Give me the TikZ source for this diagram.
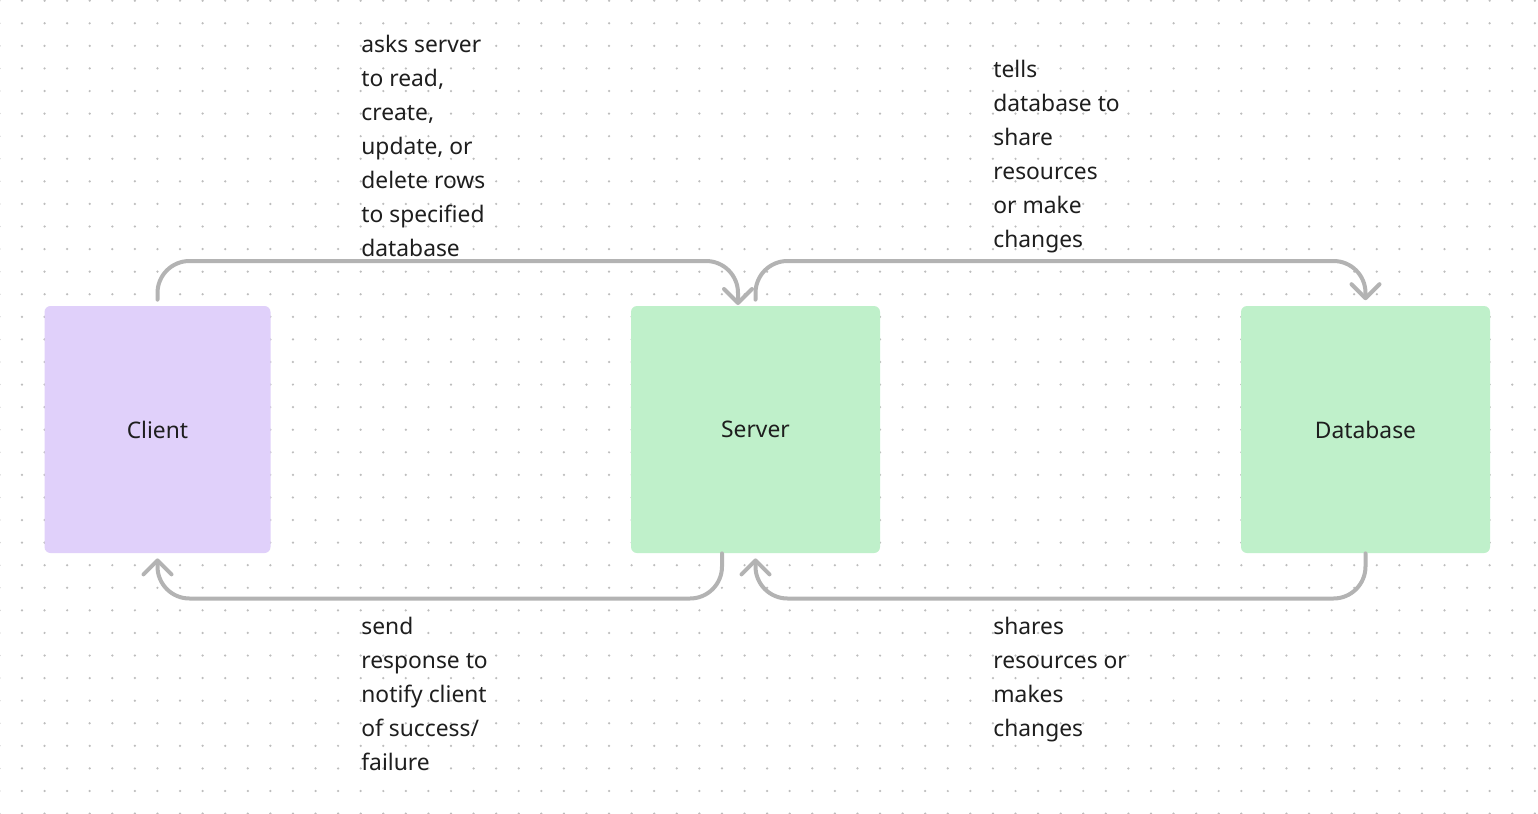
\documentclass[tikz,border=0pt]{standalone}
\usepackage{fontspec}
\setmainfont{Noto Sans}
\usetikzlibrary{arrows.meta}
\definecolor{dotc}{HTML}{BDBDBD}
\definecolor{lav}{HTML}{E0D0FA}
\definecolor{mint}{HTML}{BFF0CA}
\definecolor{conncol}{HTML}{B3B3B3}
\definecolor{ink}{HTML}{1E1E1E}
\begin{document}
\begin{tikzpicture}[x=0.5pt,y=-0.5pt,
  box/.style={draw=none,rounded corners=3pt,minimum width=#1,minimum height=123.5pt,inner sep=0pt,font=\fontsize{11.4pt}{13pt}\selectfont,text=ink},
  conn/.style={draw=conncol,line width=2pt,rounded corners=16pt,line cap=round,-{Straight Barb[length=7pt,width=14pt,line cap=round,round]}},
  lbl/.style={anchor=base west,inner sep=0pt,font=\fontsize{11.4pt}{13pt}\selectfont,text=ink}]
\useasboundingbox[fill=white] (0,0) rectangle (1538,814);
\foreach \i in {0,...,68}{\foreach \j in {0,...,36}{\fill[dotc] (-0.6+\i*22.58,0.7+\j*22.58) circle[radius=0.62pt];}}
\node[box=113pt,fill=lav] (client) at (157.5,429.5) {Client};
\node[box=124.5pt,fill=mint] (server) at (755.5,429.5) {Server};
\node[box=124.5pt,fill=mint] (database) at (1365.5,429.5) {Database};
\coordinate (topline) at (0,261);
\coordinate (botline) at (0,598.5);
\coordinate (cOut) at ([yshift=3pt]client.north);
\coordinate (sIn) at ([xshift=-8.75pt,yshift=0.3pt]server.north);
\coordinate (sOut) at ([yshift=3pt]server.north);
\coordinate (dIn) at ([yshift=2.7pt]database.north);
\coordinate (sBotOut) at ([xshift=-16.75pt]server.south);
\coordinate (cIn) at ([yshift=-2.5pt]client.south);
\coordinate (dBotOut) at (database.south);
\coordinate (sBotIn) at ([yshift=-2.5pt]server.south);
\draw[conn] (cOut) -- (cOut |- topline) -- (sIn |- topline) -- (sIn);
\draw[conn] (sOut) -- (sOut |- topline) -- (dIn |- topline) -- (dIn);
\draw[conn] (sBotOut) -- (sBotOut |- botline) -- (cIn |- botline) -- (cIn);
\draw[conn] (dBotOut) -- (dBotOut |- botline) -- (sBotIn |- botline) -- (sBotIn);
% label 1
\node[lbl] (a1) at (361,52) {asks server};
\node[lbl] (a2) at (361,86) {to read,};
\node[lbl] (a3) at (361,120) {create,};
\node[lbl] (a4) at (361,154) {update, or};
\node[lbl] (a5) at (361,188) {delete rows};
\node[lbl] (a6) at (361,222) {to specified};
\node[lbl] (a7) at (361,256) {database};
% label 2
\node[lbl] (b1) at (993,77) {tells};
\node[lbl] (b2) at (993,111) {database to};
\node[lbl] (b3) at (993,145) {share};
\node[lbl] (b4) at (993,179) {resources};
\node[lbl] (b5) at (993,213) {or make};
\node[lbl] (b6) at (993,247) {changes};
% label 3
\node[lbl] (c1) at (361,634) {send};
\node[lbl] (c2) at (361,668) {response to};
\node[lbl] (c3) at (361,702) {notify client};
\node[lbl] (c4) at (361,736) {of success/};
\node[lbl] (c5) at (361,770) {failure};
% label 4
\node[lbl] (d1) at (993,634) {shares};
\node[lbl] (d2) at (993,668) {resources or};
\node[lbl] (d3) at (993,702) {makes};
\node[lbl] (d4) at (993,736) {changes};
\end{tikzpicture}
\end{document}
